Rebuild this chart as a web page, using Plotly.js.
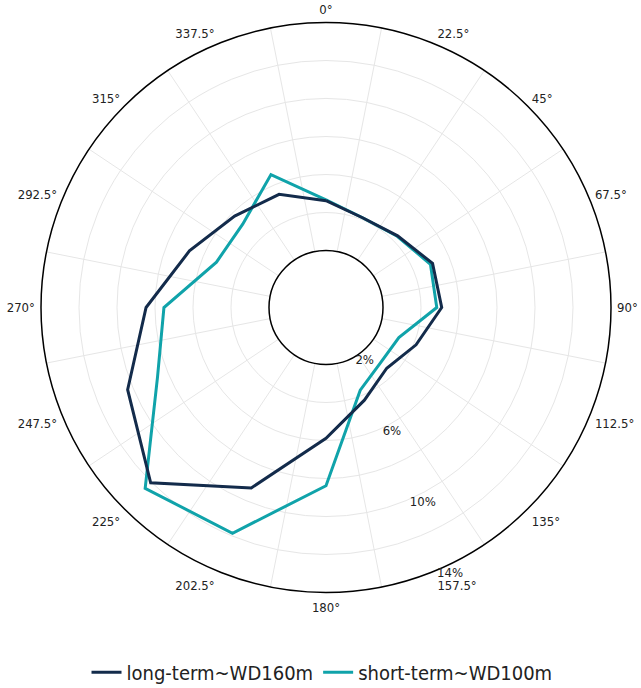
<!DOCTYPE html>
<html>
<head>
<meta charset="utf-8">
<script src="https://cdn.plot.ly/plotly-3.0.1.min.js"></script>
<style>html,body{margin:0;padding:0;background:#fff;}#chart{width:641px;height:688px;}</style>
</head>
<body>
<div id="chart"></div>
<script>
// Wind direction sectors (degrees, clockwise from north)
const directions = [0, 22.5, 45, 67.5, 90, 112.5, 135, 157.5, 180, 202.5, 225, 247.5, 270, 292.5, 315, 337.5];
// Frequency (%) per sector
const longTerm  = [4.62, 4.10, 4.33, 5.07, 5.09, 4.13, 3.52, 4.28, 5.88, 9.28, 12.05, 10.30, 8.47, 6.78, 5.80, 5.45];
const shortTerm = [4.67, 4.10, 4.30, 4.95, 4.83, 3.15, 3.08, 3.71, 8.38, 11.86, 12.46, 8.60, 7.53, 5.24, 5.20, 6.57];
const seriesNames = ['long-term~WD160m', 'short-term~WD100m'];
const seriesColors = ['#132b4b', '#10a3aa'];
const radialTicks = [2, 6, 10, 14];

const FONT = '"DejaVu Sans Condensed", "DejaVu Sans", sans-serif';
const close = a => a.concat([a[0]]);
const gridAngles = directions.map(d => d + 11.25);

const traces = [
  {type: 'scatterpolar', subplot: 'polar', r: close(shortTerm), theta: close(directions), mode: 'lines',
   name: seriesNames[1], line: {color: seriesColors[1], width: 3}},
  {type: 'scatterpolar', subplot: 'polar2', r: close(longTerm), theta: close(directions), mode: 'lines',
   name: seriesNames[0], line: {color: seriesColors[0], width: 3}}
];

const rmin = radialTicks[0], rmax = radialTicks[radialTicks.length - 1];
const radialAngle = -69;

const layout = {
  width: 641, height: 688,
  margin: {l: 41, r: 30, t: 22, b: 95, pad: 0},
  paper_bgcolor: '#fff',
  font: {family: FONT, size: 13, color: '#222'},
  showlegend: true,
  legend: {orientation: 'h', traceorder: 'reversed', x: 0.493, xanchor: 'center',
           yref: 'container', y: 0.023, yanchor: 'middle',
           font: {family: FONT, size: 20, color: '#222'}, itemclick: false},
  polar: {
    domain: {x: [0, 1], y: [0, 1]},
    hole: 0.2,
    bgcolor: '#fff',
    angularaxis: {direction: 'clockwise', rotation: 90, tickmode: 'array', tickvals: gridAngles,
                  showticklabels: false, ticks: '', showgrid: true, gridcolor: '#e6e6e6', gridwidth: 1,
                  showline: true, linecolor: '#000', linewidth: 1.5},
    radialaxis: {range: [rmin, rmax], tick0: rmin, dtick: (radialTicks[1] - radialTicks[0]) / 2, ticklabelstep: 2,
                 ticksuffix: '%', angle: radialAngle, side: 'counterclockwise', tickangle: radialAngle,
                 showline: false, ticks: '', showgrid: true,
                 gridcolor: '#e6e6e6', gridwidth: 1, tickfont: {family: FONT, size: 13, color: '#222'}}
  },
  polar2: {
    domain: {x: [0, 1], y: [0, 1]},
    hole: 0.2,
    bgcolor: 'rgba(0,0,0,0)',
    angularaxis: {direction: 'clockwise', rotation: 90, tickmode: 'array', tickvals: directions,
                  ticktext: directions.map(d => d + '°'), ticks: 'outside', ticklen: 3,
                  tickcolor: 'rgba(0,0,0,0)', showgrid: false, showline: false,
                  tickfont: {family: FONT, size: 13, color: '#222'}},
    radialaxis: {range: [rmin, rmax], visible: false}
  }
};

Plotly.newPlot('chart', traces, layout, {displayModeBar: false, staticPlot: true});
</script>
</body>
</html>
